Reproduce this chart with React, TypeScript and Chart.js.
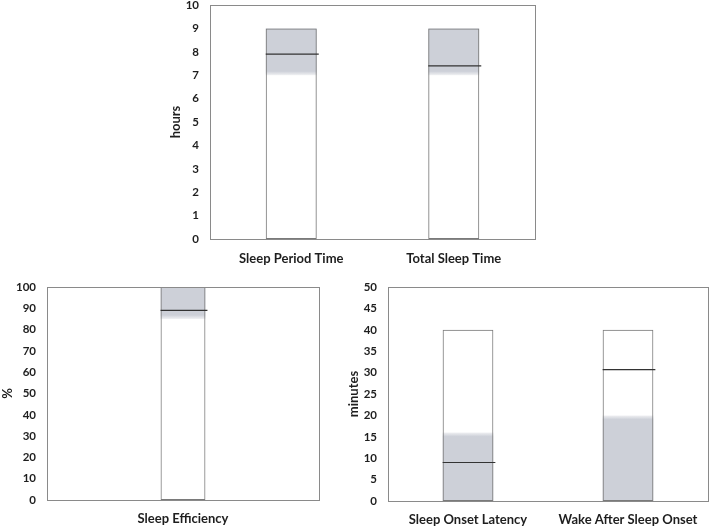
import React, { useEffect, useRef } from "react";
import { Chart, registerables } from "chart.js";

Chart.register(...registerables);

// ---- Data ----
const hoursCategories = ["Sleep Period Time", "Total Sleep Time"];
const hoursBoxMax = [9, 9];
const hoursRangeLow = [7, 7];
const hoursRangeHigh = [9, 9];
const hoursValues = [7.9, 7.4];

const effCategories = ["Sleep Efficiency"];
const effBoxMax = [100];
const effRangeLow = [85];
const effRangeHigh = [100];
const effValues = [89];

const minCategories = ["Sleep Onset Latency", "Wake After Sleep Onset"];
const minBoxMax = [40, 40];
const minRangeLow = [0, 0];
const minRangeHigh = [16, 20];
const minValues = [9, 30.7];

const FONT = "Lato, 'Open Sans', 'DejaVu Sans', sans-serif";
const GREY = "205,208,216";
const TEXT = "#1e1e1e";

type PanelProps = {
  left: number;
  top: number;
  width: number;
  height: number;
  categories: string[];
  boxMax: number[];
  rangeLow: number[];
  rangeHigh: number[];
  values: number[];
  yMax: number;
  yStep: number;
  yTitle: string;
  barPct: number;
  yAxisWidth: number;
  xAxisHeight: number;
  padding: { top: number; right: number; bottom: number; left: number };
  xTickPad: number;
  titlePad: number;
};

const boxPlugin = {
  id: "plotBox",
  afterDatasetsDraw(chart: any) {
    const { ctx, chartArea } = chart;
    ctx.save();
    ctx.strokeStyle = "#8a8a8a";
    ctx.lineWidth = 1;
    ctx.strokeRect(
      Math.round(chartArea.left) + 0.5,
      Math.round(chartArea.top) + 0.5,
      Math.round(chartArea.right - chartArea.left),
      Math.round(chartArea.bottom - chartArea.top)
    );
    ctx.restore();
  },
};

const linePlugin = {
  id: "valueLines",
  afterDatasetsDraw(chart: any, _args: any, opts: any) {
    const values: number[] = opts.values || [];
    const meta = chart.getDatasetMeta(0);
    const y = chart.scales.y;
    const { ctx } = chart;
    ctx.save();
    ctx.strokeStyle = "#333333";
    ctx.lineWidth = 1.2;
    values.forEach((v, i) => {
      const el = meta.data[i];
      if (!el) return;
      const py = y.getPixelForValue(v);
      ctx.beginPath();
      ctx.moveTo(el.x - el.width / 2, py);
      ctx.lineTo(el.x + el.width / 2 + 2, py);
      ctx.stroke();
    });
    ctx.restore();
  },
};

function Panel(p: PanelProps) {
  const ref = useRef<HTMLCanvasElement | null>(null);
  useEffect(() => {
    if (!ref.current) return;
    const grad = (c: any) => {
      const chart = c.chart;
      const i = c.dataIndex;
      const ys = chart.scales.y;
      if (!ys || !chart.chartArea) return `rgb(${GREY})`;
      const lo = p.rangeLow[i];
      const hi = p.rangeHigh[i];
      const yLo = ys.getPixelForValue(lo);
      const yHi = ys.getPixelForValue(hi);
      const g = chart.ctx.createLinearGradient(0, yHi, 0, yLo);
      const h = Math.max(1, yLo - yHi);
      const f = Math.min(0.5, 4 / h);
      if (lo > 0) {
        g.addColorStop(0, `rgba(${GREY},1)`);
        g.addColorStop(1 - f, `rgba(${GREY},1)`);
        g.addColorStop(1, `rgba(${GREY},0.3)`);
      } else {
        g.addColorStop(0, `rgba(${GREY},0.3)`);
        g.addColorStop(f, `rgba(${GREY},1)`);
        g.addColorStop(1, `rgba(${GREY},1)`);
      }
      return g;
    };
    const chart = new Chart(ref.current, {
      type: "bar",
      data: {
        labels: p.categories,
        datasets: [
          {
            data: p.categories.map((_, i) => [0, p.boxMax[i]]) as any,
            backgroundColor: "rgba(0,0,0,0)",
            borderColor: "#7a7a7a",
            borderWidth: 1,
            borderSkipped: false,
            grouped: false,
            barPercentage: p.barPct,
            categoryPercentage: 1,
          },
          {
            data: p.categories.map((_, i) => [p.rangeLow[i], p.rangeHigh[i]]) as any,
            backgroundColor: grad as any,
            borderWidth: 0,
            grouped: false,
            barPercentage: p.barPct,
            categoryPercentage: 1,
          },
        ],
      },
      options: {
        responsive: false,
        maintainAspectRatio: false,
        animation: false,
        layout: { padding: p.padding },
        plugins: {
          legend: { display: false },
          tooltip: { enabled: false },
          valueLines: { values: p.values },
        } as any,
        scales: {
          x: {
            grid: { display: false, drawTicks: false },
            border: { display: false },
            ticks: {
              color: TEXT,
              padding: p.xTickPad,
              font: { family: FONT, size: 13, weight: "bold" },
            },
            afterFit: (s: any) => {
              s.height = p.xAxisHeight;
              s.paddingTop = 0;
              s.paddingBottom = 0;
            },
          },
          y: {
            min: 0,
            max: p.yMax,
            grid: { display: false, drawTicks: false },
            border: { display: false },
            ticks: {
              stepSize: p.yStep,
              color: TEXT,
              padding: 11,
              font: { family: FONT, size: 11.5, weight: "bold" },
            },
            title: {
              display: true,
              text: p.yTitle,
              color: TEXT,
              padding: { top: p.titlePad, bottom: 0 },
              font: { family: FONT, size: 13, weight: "bold" },
            },
            afterFit: (s: any) => {
              s.width = p.yAxisWidth;
              s.paddingTop = 0;
              s.paddingBottom = 0;
            },
          },
        },
      },
      plugins: [boxPlugin, linePlugin],
    });
    return () => chart.destroy();
  }, []);
  return (
    <canvas
      ref={ref}
      width={p.width}
      height={p.height}
      style={{
        position: "absolute",
        left: p.left,
        top: p.top,
        width: p.width,
        height: p.height,
      }}
    />
  );
}

export default function App() {
  return (
    <div
      style={{
        position: "absolute",
        left: 0,
        top: 0,
        width: 709,
        height: 526,
        background: "#fff",
        overflow: "hidden",
      }}
    >
      <Panel
        left={160}
        top={0}
        width={385}
        height={275}
        categories={hoursCategories}
        boxMax={hoursBoxMax}
        rangeLow={hoursRangeLow}
        rangeHigh={hoursRangeHigh}
        values={hoursValues}
        yMax={10}
        yStep={1}
        yTitle="hours"
        barPct={0.314}
        yAxisWidth={50}
        xAxisHeight={36}
        padding={{ top: 5, right: 10, bottom: 0, left: 0 }}
        xTickPad={12}
        titlePad={8}
      />
      <Panel
        left={0}
        top={270}
        width={330}
        height={256}
        categories={effCategories}
        boxMax={effBoxMax}
        rangeLow={effRangeLow}
        rangeHigh={effRangeHigh}
        values={effValues}
        yMax={100}
        yStep={10}
        yTitle="%"
        barPct={0.165}
        yAxisWidth={47}
        xAxisHeight={26}
        padding={{ top: 17, right: 11, bottom: 0, left: 0 }}
        xTickPad={11}
        titlePad={0}
      />
      <Panel
        left={340}
        top={270}
        width={369}
        height={256}
        categories={minCategories}
        boxMax={minBoxMax}
        rangeLow={minRangeLow}
        rangeHigh={minRangeHigh}
        values={minValues}
        yMax={50}
        yStep={5}
        yTitle="minutes"
        barPct={0.317}
        yAxisWidth={48}
        xAxisHeight={25}
        padding={{ top: 17, right: 1, bottom: 0, left: 0 }}
        xTickPad={11}
        titlePad={6}
      />
    </div>
  );
}
